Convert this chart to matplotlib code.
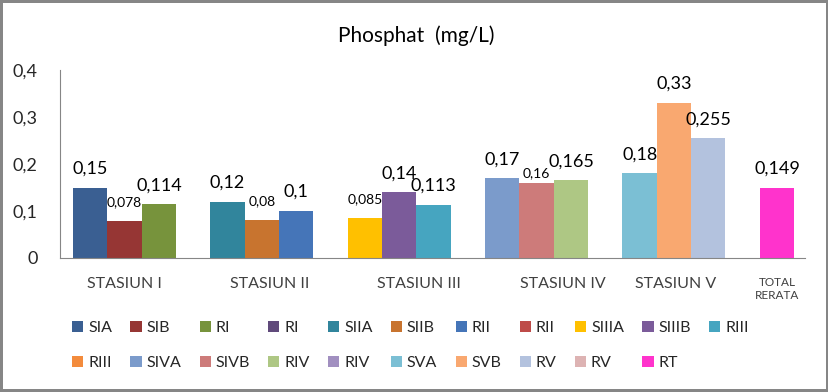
import matplotlib.pyplot as plt
import numpy as np

plt.rcParams["font.family"] = ["Lato", "DejaVu Sans"]

# series names (legend order), category slot and value of each series
series = ["SIA", "SIB", "RI", "RI", "SIIA", "SIIB", "RII", "RII", "SIIIA", "SIIIB", "RIII",
          "RIII", "SIVA", "SIVB", "RIV", "RIV", "SVA", "SVB", "RV", "RV", "RT"]
colors = ["#3A5F92", "#963634", "#77933C", "#604A7B", "#31859C", "#C8742F", "#4575B8",
          "#BE4B48", "#FFC000", "#7B5B9A", "#46A5C0", "#F38B3C", "#7B9BCB", "#CD7B7A",
          "#AEC784", "#A18FC0", "#7BBFD4", "#F9A870", "#B3C2DE", "#DDB3B3", "#FF33CC"]
category = [0, 0, 0, None, 1, 1, 1, None, 2, 2, 2, None, 3, 3, 3, None, 4, 4, 4, None, 5]
slot = [-1, 0, 1, None, -1, 0, 1, None, -1, 0, 1, None, -1, 0, 1, None, -1, 0, 1, None, -1]
values = [0.15, 0.078, 0.114, None, 0.12, 0.08, 0.1, None, 0.085, 0.14, 0.113, None,
          0.17, 0.16, 0.165, None, 0.18, 0.33, 0.255, None, 0.149]
labels = ["0,15", "0,078", "0,114", None, "0,12", "0,08", "0,1", None, "0,085", "0,14", "0,113",
          None, "0,17", "0,16", "0,165", None, "0,18", "0,33", "0,255", None, "0,149"]
small_labels = {"0,078", "0,08", "0,085", "0,16"}

cat_labels = ["STASIUN I", "STASIUN II", "STASIUN III", "STASIUN IV", "STASIUN V", "TOTAL\nRERATA"]
cat_label_pos = [0, 1.06, 2.14, 3.19, 4.01, 4.75]

width = 0.25

fig = plt.figure(figsize=(8.29, 3.92), dpi=100)
fig.patch.set_edgecolor("#868686")
fig.patch.set_linewidth(3)
ax = fig.add_axes([0.0724, 0.342, 0.899, 0.479])

handles = []
for name, col, c, s, v, lab in zip(series, colors, category, slot, values, labels):
    if v is None:
        h = ax.bar([np.nan], [np.nan], color=col, label=name)
        handles.append(h)
        continue
    x = c + s * width
    h = ax.bar(x, v, width, color=col, label=name)
    handles.append(h)
    small = lab in small_labels
    off = 10 if lab == "0,16" else 19
    ax.annotate(lab, xy=(x, v), xytext=(0, off), textcoords="offset pixels",
                ha="center", va="center", fontsize=10 if small else 13, color="black")

ax.set_xlim(-0.47, 4.956)
ax.set_ylim(0, 0.4)
ax.set_yticks([0, 0.1, 0.2, 0.3, 0.4])
ax.set_yticklabels(["0", "0,1", "0,2", "0,3", "0,4"], fontsize=13, color="#262626")
ax.set_xticks(cat_label_pos)
ax.set_xticklabels(cat_labels, fontsize=11.5, color="#404040")
ax.get_xticklabels()[-1].set_fontsize(8.5)
ax.tick_params(axis="both", length=0)
ax.tick_params(axis="y", pad=16)
ax.tick_params(axis="x", pad=14)
for sp in ["top", "right"]:
    ax.spines[sp].set_visible(False)
for sp in ["left", "bottom"]:
    ax.spines[sp].set_color("#868686")

fig.text(0.502, 0.91, "Phosphat  (mg/L)", ha="center", va="center", fontsize=15)

# legend fills column by column, so interleave to read row by row
ncol = 11
order = []
for j in range(ncol):
    order.append(j)
    if j + ncol < len(series):
        order.append(j + ncol)
fig.legend([handles[i] for i in order], [series[i] for i in order],
           loc="center", bbox_to_anchor=(0.495, 0.118), ncol=ncol, frameon=False,
           fontsize=11.5, handlelength=0.7, handleheight=0.7, handletextpad=0.3,
           columnspacing=1.15, labelspacing=1.3, labelcolor="#262626")

fig.savefig("out.png", dpi=100)
